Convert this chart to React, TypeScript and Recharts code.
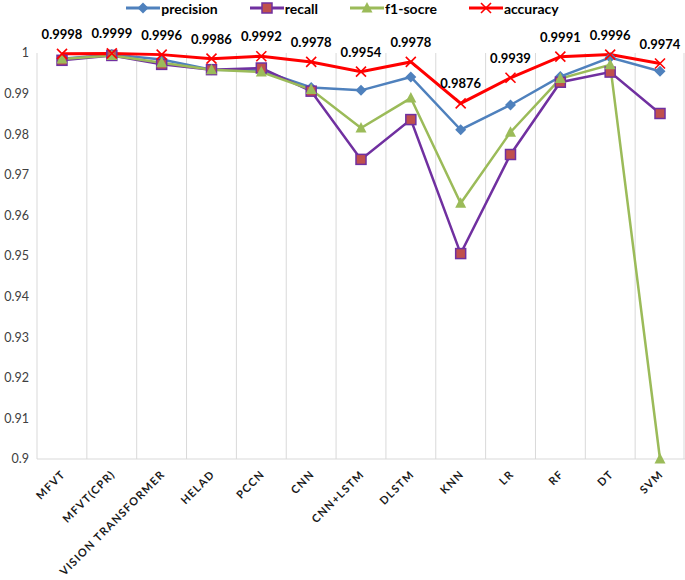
import { CartesianGrid, LabelList, Line, LineChart, XAxis, YAxis } from "recharts";

const models = [
  "MFVT",
  "MFVT(CPR)",
  "VISION TRANSFORMER",
  "HELAD",
  "PCCN",
  "CNN",
  "CNN+LSTM",
  "DLSTM",
  "KNN",
  "LR",
  "RF",
  "DT",
  "SVM",
];
const precision = [0.9986, 0.9996, 0.9984, 0.9959, 0.9957, 0.9915, 0.9908, 0.9941, 0.9811, 0.9872, 0.9942, 0.9989, 0.9955];
const recall = [0.9982, 0.9994, 0.9972, 0.9959, 0.9963, 0.9906, 0.9738, 0.9836, 0.9506, 0.975, 0.9928, 0.9953, 0.9851];
const f1 = [0.9985, 0.9994, 0.9976, 0.9959, 0.9953, 0.991, 0.9815, 0.9889, 0.963, 0.9805, 0.9937, 0.9971, 0.9];
const accuracy = [0.9998, 0.9999, 0.9996, 0.9986, 0.9992, 0.9978, 0.9954, 0.9978, 0.9876, 0.9939, 0.9991, 0.9996, 0.9974];
const yTicks = [0.9, 0.91, 0.92, 0.93, 0.94, 0.95, 0.96, 0.97, 0.98, 0.99, 1];

const data = models.map((m, i) => ({
  model: m,
  precision: precision[i],
  recall: recall[i],
  f1: f1[i],
  accuracy: accuracy[i],
}));

const BLUE = "#4F81BD";
const PURPLE = "#7030A0";
const BRICK = "#C0504D";
const GREEN = "#9BBB59";
const RED = "#FF0000";
const FONT = "Lato, 'Open Sans', sans-serif";

const Diamond = ({ cx, cy }: any) => (
  <polygon
    points={`${cx},${cy - 5.5} ${cx + 5.5},${cy} ${cx},${cy + 5.5} ${cx - 5.5},${cy}`}
    fill={BLUE}
  />
);
const Square = ({ cx, cy }: any) => (
  <rect x={cx - 5} y={cy - 5} width={10} height={10} fill={BRICK} stroke={PURPLE} strokeWidth={1.5} />
);
const Triangle = ({ cx, cy }: any) => (
  <polygon points={`${cx},${cy - 6} ${cx + 5.5},${cy + 4.5} ${cx - 5.5},${cy + 4.5}`} fill={GREEN} />
);
const Cross = ({ cx, cy }: any) => (
  <g stroke={RED} strokeWidth={1.6}>
    <line x1={cx - 5} y1={cy - 5} x2={cx + 5} y2={cy + 5} />
    <line x1={cx - 5} y1={cy + 5} x2={cx + 5} y2={cy - 5} />
  </g>
);

// rotated category labels, anchored at their end just right of the tick
const XTick = ({ x, y, payload }: any) => (
  <text
    x={x + 4}
    y={y + 8}
    textAnchor="end"
    transform={`rotate(-45, ${x + 4}, ${y + 8})`}
    fontFamily={FONT}
    fontWeight="bold"
    fontSize={11}
    letterSpacing={1.2}
    fill="#1a1a1a"
  >
    {payload.value}
  </text>
);

const legendItems = [
  { name: "precision", color: BLUE, Marker: Diamond },
  { name: "recall", color: PURPLE, Marker: Square },
  { name: "f1-socre", color: GREEN, Marker: Triangle },
  { name: "accuracy", color: RED, Marker: Cross },
];

function TopLegend() {
  return (
    <div
      style={{
        position: "absolute",
        top: 0,
        left: 0,
        width: 685,
        display: "flex",
        justifyContent: "center",
        gap: 32,
        fontFamily: FONT,
        fontWeight: "bold",
        fontSize: 14,
      }}
    >
      {legendItems.map(({ name, color, Marker }) => (
        <div key={name} style={{ display: "flex", alignItems: "center", height: 16 }}>
          <svg width={34} height={16}>
            <line x1={0} y1={8} x2={34} y2={8} stroke={color} strokeWidth={3} />
            <Marker cx={17} cy={8} />
          </svg>
          <span style={{ marginLeft: 1 }}>{name}</span>
        </div>
      ))}
    </div>
  );
}

export default function App() {
  return (
    <div style={{ position: "relative", width: 685, height: 580, background: "#fff" }}>
      <style>{`body{margin:0}`}</style>
      <TopLegend />
      <LineChart width={685} height={580} data={data} margin={{ top: 53, right: 0, bottom: 0, left: 0 }}>
        <CartesianGrid
          horizontal={false}
          stroke="#D9D9D9"
          verticalCoordinatesGenerator={({ offset }: any) =>
            models.map((_, i) => offset.left + (i * offset.width) / models.length).concat(offset.left + offset.width - 1)
          }
        />
        <XAxis
          dataKey="model"
          interval={0}
          height={121}
          padding={{ left: 25, right: 25 }}
          tickLine={false}
          axisLine={{ stroke: "#D9D9D9" }}
          tick={<XTick />}
        />
        <YAxis
          domain={[0.9, 1]}
          ticks={yTicks}
          width={37}
          axisLine={false}
          tickLine={false}
          tickFormatter={(v) => String(v)}
          tick={{ fontFamily: FONT, fontSize: 12.5, fill: "#404040" }}
        />
        <Line dataKey="precision" stroke={BLUE} strokeWidth={2.5} dot={<Diamond />} isAnimationActive={false} />
        <Line dataKey="recall" stroke={PURPLE} strokeWidth={2.5} dot={<Square />} isAnimationActive={false} />
        <Line dataKey="f1" stroke={GREEN} strokeWidth={2.5} dot={<Triangle />} isAnimationActive={false} />
        <Line dataKey="accuracy" stroke={RED} strokeWidth={3} dot={<Cross />} isAnimationActive={false}>
          <LabelList
            dataKey="accuracy"
            position="top"
            offset={15}
            fontFamily={FONT}
            fontWeight="bold"
            fontSize={13}
            fill="#000"
          />
        </Line>
      </LineChart>
    </div>
  );
}
